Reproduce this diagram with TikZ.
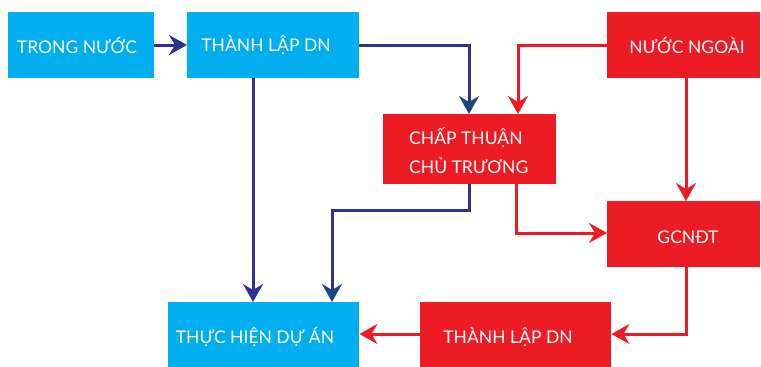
\documentclass[tikz,border=0pt]{standalone}
\usepackage{fontspec}
\setmainfont{Lato}
\usetikzlibrary{arrows.meta}
\definecolor{cy}{HTML}{00AEEF}
\definecolor{rd}{HTML}{ED1C24}
\definecolor{bl}{HTML}{2E3192}
\definecolor{nv}{HTML}{1B4584}
\tikzset{
  box/.style={draw=none, inner sep=0pt, anchor=north west},
  cbox/.style={box, fill=cy},
  rbox/.style={box, fill=rd},
  lbl/.style={text=white, font=\fontsize{17.5}{21}\selectfont, inner sep=0pt, align=left},
  tipb/.style={-{Stealth[length=18pt, width=20pt, inset=6pt]}},
  bline/.style={draw=bl, line width=3pt, tipb},
  nline/.style={draw=bl, line width=3pt, -{Stealth[length=18pt, width=20pt, inset=6pt, color=nv]}},
  rline/.style={draw=rd, line width=3pt, tipb},
}
\begin{document}
\begin{tikzpicture}[x=1pt, y=-1pt]
\useasboundingbox (0,0) rectangle (761,367);
% boxes
\node[cbox, minimum width=146pt, minimum height=66pt] (tn) at (8,12) {};
\node[cbox, minimum width=172pt, minimum height=66pt] (tl) at (187,12) {};
\node[rbox, minimum width=153pt, minimum height=66pt] (nn) at (607,12) {};
\node[rbox, minimum width=173pt, minimum height=70pt] (ct) at (383,114) {};
\node[rbox, minimum width=153pt, minimum height=66pt] (gc) at (607,201) {};
\node[cbox, minimum width=191pt, minimum height=65pt] (th) at (168,302) {};
\node[rbox, minimum width=191pt, minimum height=65pt] (tr) at (420,302) {};
% labels
\node[lbl] (tnl) at (77,45) {TRONG NƯỚC};
\node[lbl] (tll) at (266,45) {THÀNH LẬP DN};
\node[lbl] (nnl) at (687,45) {NƯỚC NGOÀI};
\node[lbl, anchor=west] (ctl1) at (409,138) {CHẤP THUẬN};
\node[lbl, anchor=west] (ctl2) at (409,166) {CHỦ TRƯƠNG};
\node[lbl] (gcl) at (688,237) {GCNĐT};
\node[lbl] (thl) at (255,337) {THỰC HIỆN DỰ ÁN};
\node[lbl] (trl) at (508,337) {THÀNH LẬP DN};
% connectors
\path[bline] (tn.east |- 0,45) -- (tl.west |- 0,45);
\path[nline] (tl.east |- 0,45) -| (469,0 |- ct.north);
\path[bline] (253,0 |- tl.south) -- (253,0 |- th.north);
\path[nline] (469,0 |- ct.south) -- (469,210) -| (332,0 |- th.north);
\path[rline] (nn.west |- 0,45) -| (518,0 |- ct.north);
\path[rline] (686,0 |- nn.south) -- (686,0 |- gc.north);
\path[rline] (516,0 |- ct.south) |- (gc.west |- 0,233);
\path[rline] (686,0 |- gc.south) |- (tr.east |- 0,334);
\path[rline] (tr.west |- 0,334) -- (th.east |- 0,334);
\end{tikzpicture}
\end{document}
